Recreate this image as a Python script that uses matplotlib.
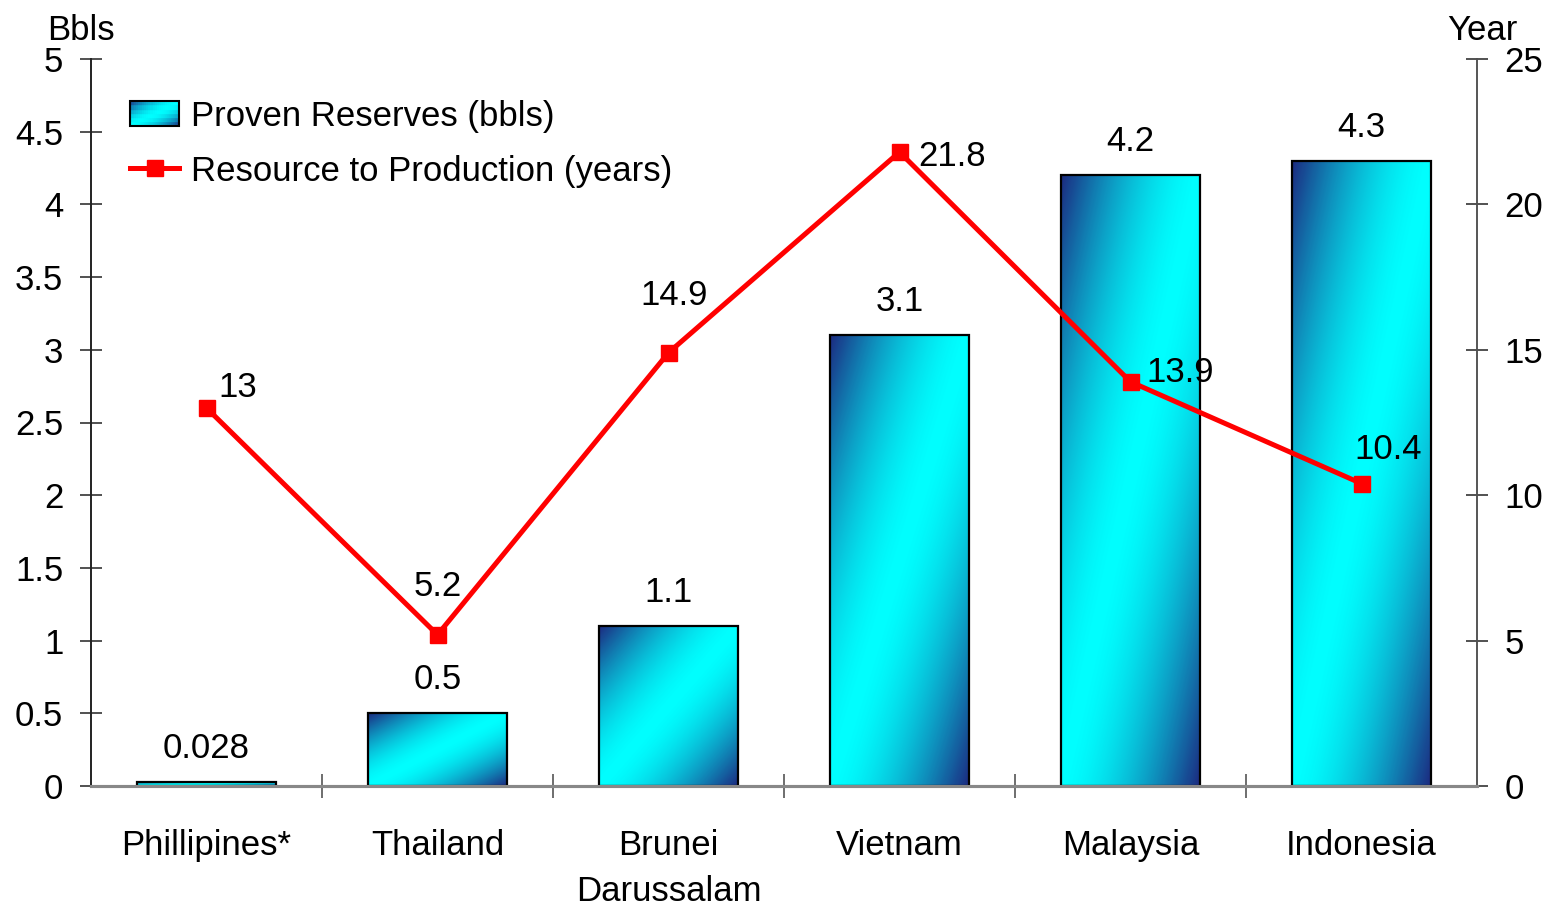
import numpy as np
import matplotlib
matplotlib.use('Agg')
import matplotlib.pyplot as plt
from matplotlib.colors import LinearSegmentedColormap
from matplotlib.patches import Rectangle
from matplotlib.legend_handler import HandlerBase
from matplotlib.container import BarContainer

plt.rcParams['font.family'] = ['Liberation Sans', 'DejaVu Sans']

# reserves (billion barrels) and reserve-to-production ratio (years)
countries = ['Phillipines*', 'Thailand', 'Brunei\nDarussalam', 'Vietnam', 'Malaysia', 'Indonesia']
reserves = [0.028, 0.5, 1.1, 3.1, 4.2, 4.3]
rp_years = [13, 5.2, 14.9, 21.8, 13.9, 10.4]
left_ticks = [0, 0.5, 1, 1.5, 2, 2.5, 3, 3.5, 4, 4.5, 5]
right_ticks = [0, 5, 10, 15, 20, 25]

# where each R/P label sits relative to its marker (px), and its alignment
rp_label_offsets = [(12, 11, 'left'), (0, 39, 'center'), (6, 48, 'center'),
                    (19, -14, 'left'), (16, 0, 'left'), (-7, 25, 'left')]

NAVY = '#1c2a80'
CYAN = '#00ffff'
RED = '#ff0000'
FS = 25
PX = 0.72  # points per pixel at dpi=100

grad_cmap = LinearSegmentedColormap.from_list('bar', [NAVY, CYAN, NAVY])


def shade(t):
    # widen the bright middle band of the diagonal sweep
    s = 2 * np.asarray(t) - 1
    return 0.5 + 0.5 * np.sign(s) * np.abs(s) ** 1.6


class GradientHandler(HandlerBase):
    def create_artists(self, legend, orig_handle, xdescent, ydescent,
                       width, height, fontsize, trans):
        nx, ny = 24, 6
        artists = []
        for i in range(nx):
            for j in range(ny):
                u = (i + 0.5) / nx
                v = (j + 0.5) / ny
                c = grad_cmap(shade((u + 1 - v) / 2))
                artists.append(Rectangle((-xdescent + i * width / nx, -ydescent + j * height / ny),
                                         width / nx, height / ny, facecolor=c,
                                         edgecolor=c, lw=0.3, transform=trans))
        artists.append(Rectangle((-xdescent, -ydescent), width, height, fill=False,
                                 edgecolor='black', lw=1.5, transform=trans))
        return artists


fig = plt.figure(figsize=(15.47, 9.08), dpi=100)
ax = fig.add_axes([91 / 1547, 1 - 786 / 908, 1386 / 1547, 727 / 908])
ax2 = ax.twinx()

x = np.arange(len(countries))
bars = ax.bar(x, reserves, width=0.6, facecolor='none', edgecolor='black',
              lw=1.6, zorder=3, label='Proven Reserves (bbls)')

# diagonal dark-cyan-dark fill for each bar
uu, vv = np.meshgrid(np.linspace(0, 1, 200), np.linspace(0, 1, 200))
grad = shade((uu + 1 - vv) / 2)
for b in bars:
    bx, by, bw, bh = b.get_x(), b.get_y(), b.get_width(), b.get_height()
    im = ax.imshow(grad, cmap=grad_cmap, vmin=0, vmax=1, origin='lower',
                   extent=[bx, bx + bw, by, by + bh], aspect='auto',
                   interpolation='bilinear', zorder=2)
    im.set_clip_path(b)

for xi, v in zip(x, reserves):
    ax.annotate(f'{v:g}', (xi, v), xytext=(0, 24 * PX), textcoords='offset points',
                ha='center', va='baseline', fontsize=FS)

ax.set_xlim(-0.5, len(countries) - 0.5)
ax.set_ylim(0, 5)
ax.set_yticks(left_ticks, [f'{t:g}' for t in left_ticks])
ax.set_xticks(np.arange(0.5, len(countries) - 1, 1), [''] * (len(countries) - 1))
ax.set_xticks(x, countries, minor=True)
for lbl in ax.get_xticklabels(minor=True):
    lbl.set_linespacing(1.5)
ax.tick_params(axis='x', which='major', direction='inout', length=24 * PX,
               width=1.2, color='#555555')
ax.tick_params(axis='x', which='minor', length=0, pad=31, labelsize=FS)
ax.tick_params(axis='y', direction='inout', length=22 * PX, width=1.2,
               color='#333333', pad=12, labelsize=FS)

line, = ax2.plot(x, rp_years, color=RED, lw=3.6, marker='s', markersize=11,
                 label='Resource to Production (years)', zorder=4)
for xi, v, (dx, dy, ha) in zip(x, rp_years, rp_label_offsets):
    ax2.annotate(f'{v:g}', (xi, v), xytext=(dx * PX, dy * PX), textcoords='offset points',
                 ha=ha, va='baseline', fontsize=FS)

ax2.set_ylim(0, 25)
ax2.set_yticks(right_ticks)
ax2.tick_params(axis='y', direction='inout', length=22 * PX, width=1.2,
                color='#333333', pad=12, labelsize=FS)

for a in (ax, ax2):
    a.spines['top'].set_visible(False)
    a.spines['left'].set_color('#222222')
    a.spines['right'].set_color('#555555')
    a.spines['left'].set_linewidth(1.2)
    a.spines['right'].set_linewidth(1.2)
    a.spines['bottom'].set_color('#888888')
    a.spines['bottom'].set_linewidth(2.2)

ax2.legend([bars, line], ['Proven Reserves (bbls)', 'Resource to Production (years)'],
           handler_map={BarContainer: GradientHandler()},
           loc='upper left', bbox_to_anchor=(0.028, 0.944), frameon=False,
           fontsize=FS, borderpad=0, borderaxespad=0, handlelength=1.43,
           handleheight=0.7, handletextpad=0.34, labelspacing=0.63)

fig.text(47 / 1547, 1 - 30 / 908, 'Bbls', fontsize=FS, va='center', ha='left')
fig.text(1447 / 1547, 1 - 30 / 908, 'Year', fontsize=FS, va='center', ha='left')

fig.savefig('out.png', dpi=100)
